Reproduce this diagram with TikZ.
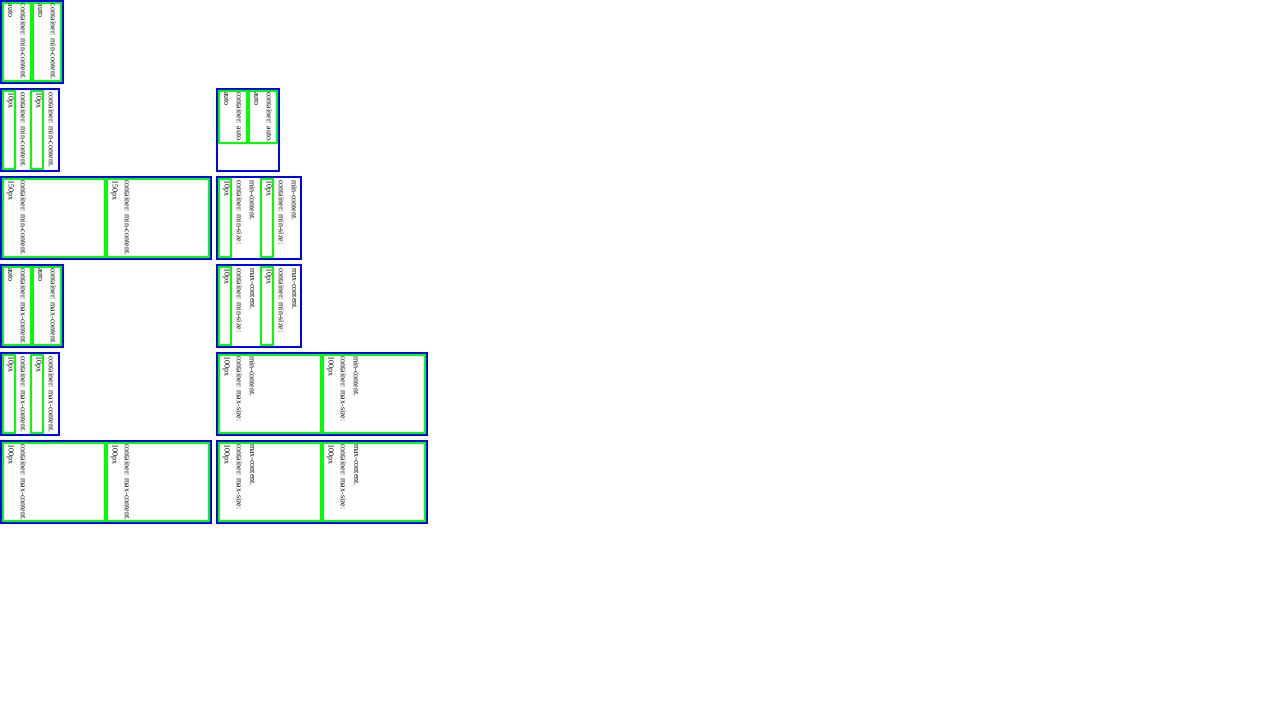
\documentclass[tikz,border=0pt]{standalone}
\usepackage{fontspec}
\setmainfont{Liberation Serif}
\definecolor{cssblue}{RGB}{0,0,255}
\definecolor{csslime}{RGB}{0,255,0}
\newcommand\outerrect[4]{\draw[outerb] (#1+1,#2+1) rectangle (#1+#3-1,#2+#4-1);}
\newcommand\innerrect[4]{\draw[innerb] (#1+1,#2+1) rectangle (#1+#3-1,#2+#4-1);}
\newcommand\vtext[4]{\node[lbl] (#1) at (#2,#3) {#4};}
\begin{document}
\begin{tikzpicture}[x=1pt,y=-1pt,
  outerb/.style={draw=cssblue, line width=2pt},
  innerb/.style={draw=csslime, line width=2pt},
  lbl/.style={font=\fontsize{8}{9}\selectfont, rotate=-90, anchor=west, inner sep=0pt, outer sep=0pt, text=black}]
\useasboundingbox[fill=white] (0,0) rectangle (1280,720);

% Row 1
\outerrect{0}{0}{64}{84}
\innerrect{2}{2}{30}{80}
\innerrect{32}{2}{30}{80}
\vtext{r1a1}{10.5}{4}{auto}
\vtext{r1a2}{23.5}{4}{container: min-content.}
\vtext{r1b1}{40.5}{4}{auto}
\vtext{r1b2}{53.5}{4}{container: min-content.}

% Row 2 left
\outerrect{0}{88}{60}{84}
\innerrect{2}{90}{14}{80}
\innerrect{30}{90}{14}{80}
\vtext{r2a1}{10.5}{92}{10px}
\vtext{r2a2}{23.5}{92}{container: min-content.}
\vtext{r2b1}{38.5}{92}{10px}
\vtext{r2b2}{51.5}{92}{container: min-content.}
% Row 2 right
\outerrect{216}{88}{64}{84}
\innerrect{218}{90}{30}{54}
\innerrect{248}{90}{30}{54}
\vtext{r2c1}{226.5}{92}{auto}
\vtext{r2c2}{239.5}{92}{container: auto.}
\vtext{r2d1}{256.5}{92}{auto}
\vtext{r2d2}{269.5}{92}{container: auto.}

% Row 3 left
\outerrect{0}{176}{212}{84}
\innerrect{2}{178}{104}{80}
\innerrect{106}{178}{104}{80}
\vtext{r3a1}{10.5}{180}{150px}
\vtext{r3a2}{23.5}{180}{container: min-content.}
\vtext{r3b1}{114.5}{180}{150px}
\vtext{r3b2}{127.5}{180}{container: min-content.}
% Row 3 right
\outerrect{216}{176}{86}{84}
\innerrect{218}{178}{14}{80}
\innerrect{260}{178}{14}{80}
\vtext{r3c1}{226.5}{180}{10px}
\vtext{r3c2}{239.5}{180}{container: min-size:}
\vtext{r3c3}{252.5}{180}{min-content.}
\vtext{r3d1}{268.5}{180}{10px}
\vtext{r3d2}{281.5}{180}{container: min-size:}
\vtext{r3d3}{294.5}{180}{min-content.}

% Row 4 left
\outerrect{0}{264}{64}{84}
\innerrect{2}{266}{30}{80}
\innerrect{32}{266}{30}{80}
\vtext{r4a1}{10.5}{268}{auto}
\vtext{r4a2}{23.5}{268}{container: max-content.}
\vtext{r4b1}{40.5}{268}{auto}
\vtext{r4b2}{53.5}{268}{container: max-content.}
% Row 4 right
\outerrect{216}{264}{86}{84}
\innerrect{218}{266}{14}{80}
\innerrect{260}{266}{14}{80}
\vtext{r4c1}{226.5}{268}{10px}
\vtext{r4c2}{239.5}{268}{container: min-size:}
\vtext{r4c3}{252.5}{268}{max-content.}
\vtext{r4d1}{268.5}{268}{10px}
\vtext{r4d2}{281.5}{268}{container: min-size:}
\vtext{r4d3}{294.5}{268}{max-content.}

% Row 5 left
\outerrect{0}{352}{60}{84}
\innerrect{2}{354}{14}{80}
\innerrect{30}{354}{14}{80}
\vtext{r5a1}{10.5}{356}{10px}
\vtext{r5a2}{23.5}{356}{container: max-content.}
\vtext{r5b1}{38.5}{356}{10px}
\vtext{r5b2}{51.5}{356}{container: max-content.}
% Row 5 right
\outerrect{216}{352}{212}{84}
\innerrect{218}{354}{104}{80}
\innerrect{322}{354}{104}{80}
\vtext{r5c1}{226.5}{356}{100px}
\vtext{r5c2}{239.5}{356}{container: max-size:}
\vtext{r5c3}{252.5}{356}{min-content.}
\vtext{r5d1}{330.5}{356}{100px}
\vtext{r5d2}{343.5}{356}{container: max-size:}
\vtext{r5d3}{356.5}{356}{min-content.}

% Row 6 left
\outerrect{0}{440}{212}{84}
\innerrect{2}{442}{104}{80}
\innerrect{106}{442}{104}{80}
\vtext{r6a1}{10.5}{444}{100px}
\vtext{r6a2}{23.5}{444}{container: max-content.}
\vtext{r6b1}{114.5}{444}{100px}
\vtext{r6b2}{127.5}{444}{container: max-content.}
% Row 6 right
\outerrect{216}{440}{212}{84}
\innerrect{218}{442}{104}{80}
\innerrect{322}{442}{104}{80}
\vtext{r6c1}{226.5}{444}{100px}
\vtext{r6c2}{239.5}{444}{container: max-size:}
\vtext{r6c3}{252.5}{444}{max-content.}
\vtext{r6d1}{330.5}{444}{100px}
\vtext{r6d2}{343.5}{444}{container: max-size:}
\vtext{r6d3}{356.5}{444}{max-content.}
\end{tikzpicture}
\end{document}
